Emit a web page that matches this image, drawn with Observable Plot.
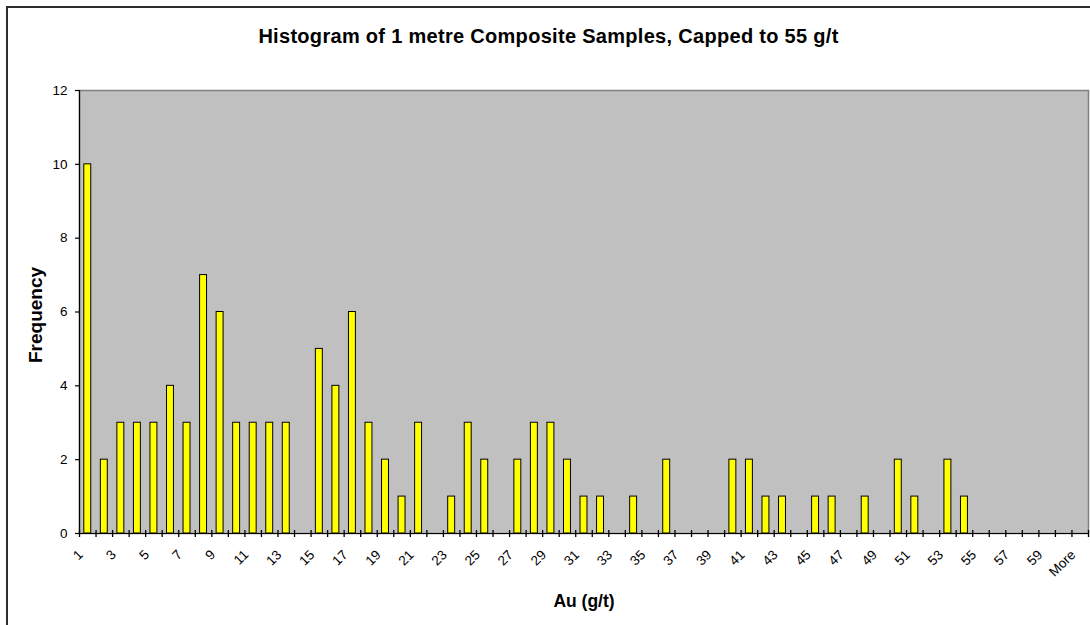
<!DOCTYPE html>
<html>
<head>
<meta charset="utf-8">
<script src="https://cdn.jsdelivr.net/npm/d3@7"></script>
<script src="https://cdn.jsdelivr.net/npm/@observablehq/plot@0.6"></script>
<style>
  html, body { margin: 0; padding: 0; background: #fff; width: 1090px; height: 625px; overflow: hidden; }
  #frame { position: absolute; left: 6px; top: 6px; width: 2000px; height: 2000px;
           border-left: 2px solid #2e2e2e; border-top: 2px solid #2e2e2e; pointer-events: none; z-index: 5; }
  #title { position: absolute; left: 0; top: 0; width: 1097px; height: 35px; padding-top: 25px;
           text-align: center; font: bold 20px "Liberation Sans", Arial, sans-serif; letter-spacing: 0.3px; color: #000; }
  #chart { position: absolute; left: 0; top: 60px; }
</style>
</head>
<body>
<div id="frame"></div>
<div id="title"></div>
<div id="chart"></div>
<script>
const titleText = "Histogram of 1 metre Composite Samples, Capped to 55 g/t";
const xTitle = "Au (g/t)";
const yTitle = "Frequency";

const categories = ["1","2","3","4","5","6","7","8","9","10",
  "11","12","13","14","15","16","17","18","19","20",
  "21","22","23","24","25","26","27","28","29","30",
  "31","32","33","34","35","36","37","38","39","40",
  "41","42","43","44","45","46","47","48","49","50",
  "51","52","53","54","55","56","57","58","59","60","More"];

const frequency = [10,2,3,3,3,4,3,7,6,3,
  3,3,3,0,5,4,6,3,2,1,
  3,0,1,3,2,0,2,3,3,2,
  1,1,0,1,0,2,0,0,0,2,
  2,1,1,0,1,1,0,1,0,2,
  1,0,2,1,0,0,0,0,0,0,0];

const xTickLabels = ["1","3","5","7","9","11","13","15","17","19","21","23","25","27","29",
  "31","33","35","37","39","41","43","45","47","49","51","53","55","57","59","More"];
const yTicks = [0, 2, 4, 6, 8, 10, 12];

document.getElementById("title").textContent = titleText;

const W = 1090, H = 565;
const mL = 79, mR = 2, mT = 30, mB = 92;
const step = (W - mL - mR) / categories.length;
const table = categories.map((c, i) => ({bin: c, count: frequency[i]}));
const font = "'Liberation Sans', Arial, sans-serif";
const tickStyle = {y1: 0, y2: 0, insetTop: -3, insetBottom: -4, stroke: "#000", strokeWidth: 1.3};

const chart = Plot.plot({
  width: W, height: H,
  marginLeft: mL, marginRight: mR, marginTop: mT, marginBottom: mB,
  style: {fontFamily: font, fontSize: "13.5px", color: "#000", background: "transparent", overflow: "visible"},
  x: {type: "band", domain: categories, paddingInner: 0.58, paddingOuter: 0.29, axis: null},
  y: {domain: [0, 12], axis: null},
  marks: [
    Plot.frame({fill: "#c0c0c0", stroke: "#808080", strokeWidth: 1.5}),
    Plot.barY(table, {x: "bin", y: "count", fill: "#ffff00", stroke: "#000", strokeWidth: 1}),
    Plot.ruleY([0], {stroke: "#000", strokeWidth: 1.2}),
    Plot.ruleX([categories[0]], {stroke: "#000", strokeWidth: 1.2, dx: -step / 2}),
    Plot.ruleX(categories, {x: d => d, ...tickStyle, dx: -step / 2}),
    Plot.ruleX([categories[categories.length - 1]], {x: d => d, ...tickStyle, dx: step / 2}),
    Plot.axisY(yTicks, {tickSize: 4, tickPadding: 8, label: null, stroke: "#000", strokeWidth: 1.2, fill: "#000", fontSize: 13.5}),
    Plot.axisX(xTickLabels, {tickSize: 0, tickRotate: -45, tickPadding: 19, dx: -7, label: null, fill: "#000", fontSize: 13.5}),
    Plot.text([xTitle], {frameAnchor: "bottom", textAnchor: "middle", lineAnchor: "bottom", dy: 73, fontWeight: "bold", fontSize: 17.5, fill: "#000"}),
    Plot.text([yTitle], {frameAnchor: "left", textAnchor: "middle", lineAnchor: "bottom", rotate: -90, dx: -38, dy: 3, fontWeight: "bold", fontSize: 19, fill: "#000"})
  ]
});
document.getElementById("chart").appendChild(chart);
</script>
</body>
</html>
